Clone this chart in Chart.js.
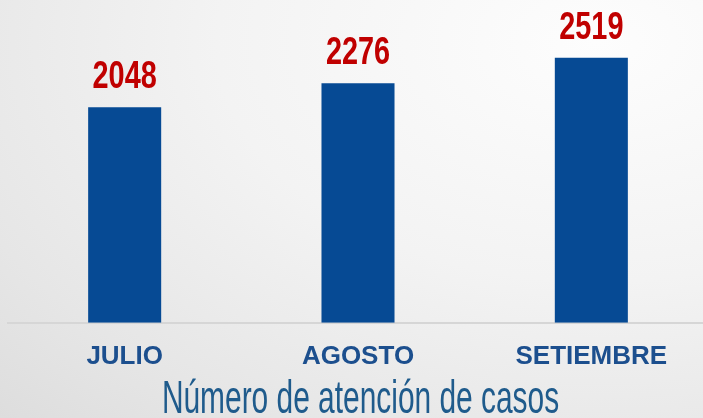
<!DOCTYPE html>
<html>
<head>
<meta charset="utf-8">
<script src="https://cdn.jsdelivr.net/npm/chart.js@4"></script>
<style>
  html, body { margin: 0; padding: 0; overflow: hidden; }
  body {
    width: 703px; height: 418px;
    background: radial-gradient(ellipse at 85% 10%, #fdfdfd 0%, #f3f3f3 45%, #e6e6e6 80%, #dddddd 100%);
  }
  canvas { display: block; }
</style>
</head>
<body>
<canvas id="casosChart" width="712" height="418"></canvas>
<script>
const months = ["JULIO", "AGOSTO", "SETIEMBRE"];
const cases = [2048, 2276, 2519];
const chartTitle = "Número de atención de casos";

// value labels + condensed title, drawn on top of the bars
const labelPlugin = {
    id: "labels",
    afterDatasetsDraw(chart) {
        const ctx = chart.ctx;
        const meta = chart.getDatasetMeta(0);
        ctx.save();
        ctx.fillStyle = "#c00000";
        ctx.font = "bold 38px 'Liberation Sans', Arial";
        ctx.textAlign = "center";
        ctx.textBaseline = "alphabetic";
        meta.data.forEach(function (bar, i) {
            ctx.save();
            ctx.translate(bar.x, bar.y - 19);
            ctx.scale(0.76, 1);
            ctx.fillText(String(cases[i]), 0, 0);
            ctx.restore();
        });
        // title
        ctx.save();
        ctx.fillStyle = "#1f5b8c";
        ctx.font = "46px 'Liberation Sans', Arial";
        ctx.translate(360.5, 413);
        ctx.scale(0.65, 1);
        ctx.fillText(chartTitle, 0, 0);
        ctx.restore();
        ctx.restore();
    }
};

const ctx = document.getElementById("casosChart").getContext("2d");
new Chart(ctx, {
    type: "bar",
    data: {
        labels: months,
        datasets: [{
            data: cases,
            backgroundColor: "#064a94",
            borderWidth: 0,
            barPercentage: 0.313,
            categoryPercentage: 1
        }]
    },
    options: {
        responsive: false,
        animation: false,
        layout: { padding: { left: 8, right: 4, top: 7, bottom: 36 } },
        plugins: { legend: { display: false }, tooltip: { enabled: false } },
        scales: {
            x: {
                grid: { display: false },
                border: { display: true, color: "#d6d6d6", width: 2 },
                ticks: {
                    color: "#1c4f8e",
                    font: { family: "'Liberation Sans', Arial", size: 26, weight: "bold" },
                    padding: 10
                }
            },
            y: {
                display: false,
                min: 0,
                max: 3000
            }
        }
    },
    plugins: [labelPlugin]
});
</script>
</body>
</html>
